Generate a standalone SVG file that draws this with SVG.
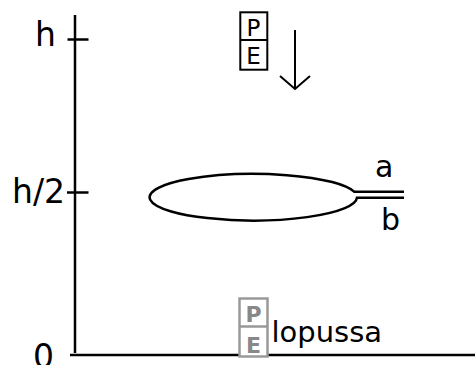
<svg xmlns="http://www.w3.org/2000/svg" width="475" height="365" viewBox="0 0 475 365">
<style>
.ax{stroke:#000;stroke-width:2.5;fill:none}
.ln{stroke:#000;stroke-width:2;fill:none}
.lbl{font-family:"DejaVu Sans","Liberation Sans",sans-serif;fill:#000}
.pe{font-family:"DejaVu Sans","Liberation Sans",sans-serif;font-size:23px;text-anchor:middle;fill:#000}
.peg{font-family:"DejaVu Sans","Liberation Sans",sans-serif;font-size:22px;font-weight:bold;text-anchor:middle;fill:#888}
</style>
<rect width="475" height="365" fill="#fff"/>
<g id="axes">
<path class="ax" d="M75,15 V353"/>
<path class="ax" d="M70,355 H475"/>
<path class="ax" d="M67.5,39.5 H88.5"/>
<path class="ax" d="M67,192.5 H88.5"/>
</g>
<g id="labels">
<text class="lbl" x="35" y="46" font-size="33">h</text>
<text class="lbl" x="12" y="202.5" font-size="33">h/2</text>
<text class="lbl" x="33" y="368" font-size="33">0</text>
</g>
<g id="pe-top">
<rect x="240.3" y="12.3" width="27" height="57.4" fill="#fff" stroke="#000" stroke-width="2"/>
<path class="ln" d="M240.3,40 H267.3"/>
<text class="pe" x="253.5" y="36.3">P</text>
<text class="pe" x="253.5" y="64">E</text>
</g>
<g id="arrow">
<path class="ln" d="M295,30 V88"/>
<path class="ln" d="M280,76 L295,89 L310,76"/>
</g>
<g id="loop">
<path class="ax" d="M404,191.7 H357 Q355.5,191.7 354.1,191.7 A103.7,23.3 0 1 0 357,197.7 H404"/>
<text class="lbl" x="375" y="176.7" font-size="30">a</text>
<text class="lbl" x="381" y="230" font-size="30">b</text>
</g>
<g id="pe-bottom">
<rect x="239.5" y="298.5" width="28" height="58" fill="#fff" stroke="#999" stroke-width="2.5"/>
<path d="M239.5,326.5 H267.5" stroke="#999" stroke-width="2.5"/>
<text class="peg" x="253.5" y="322">P</text>
<text class="peg" x="253.5" y="353">E</text>
<text class="lbl" x="271.5" y="341.7" font-size="29">lopussa</text>
</g>
</svg>
